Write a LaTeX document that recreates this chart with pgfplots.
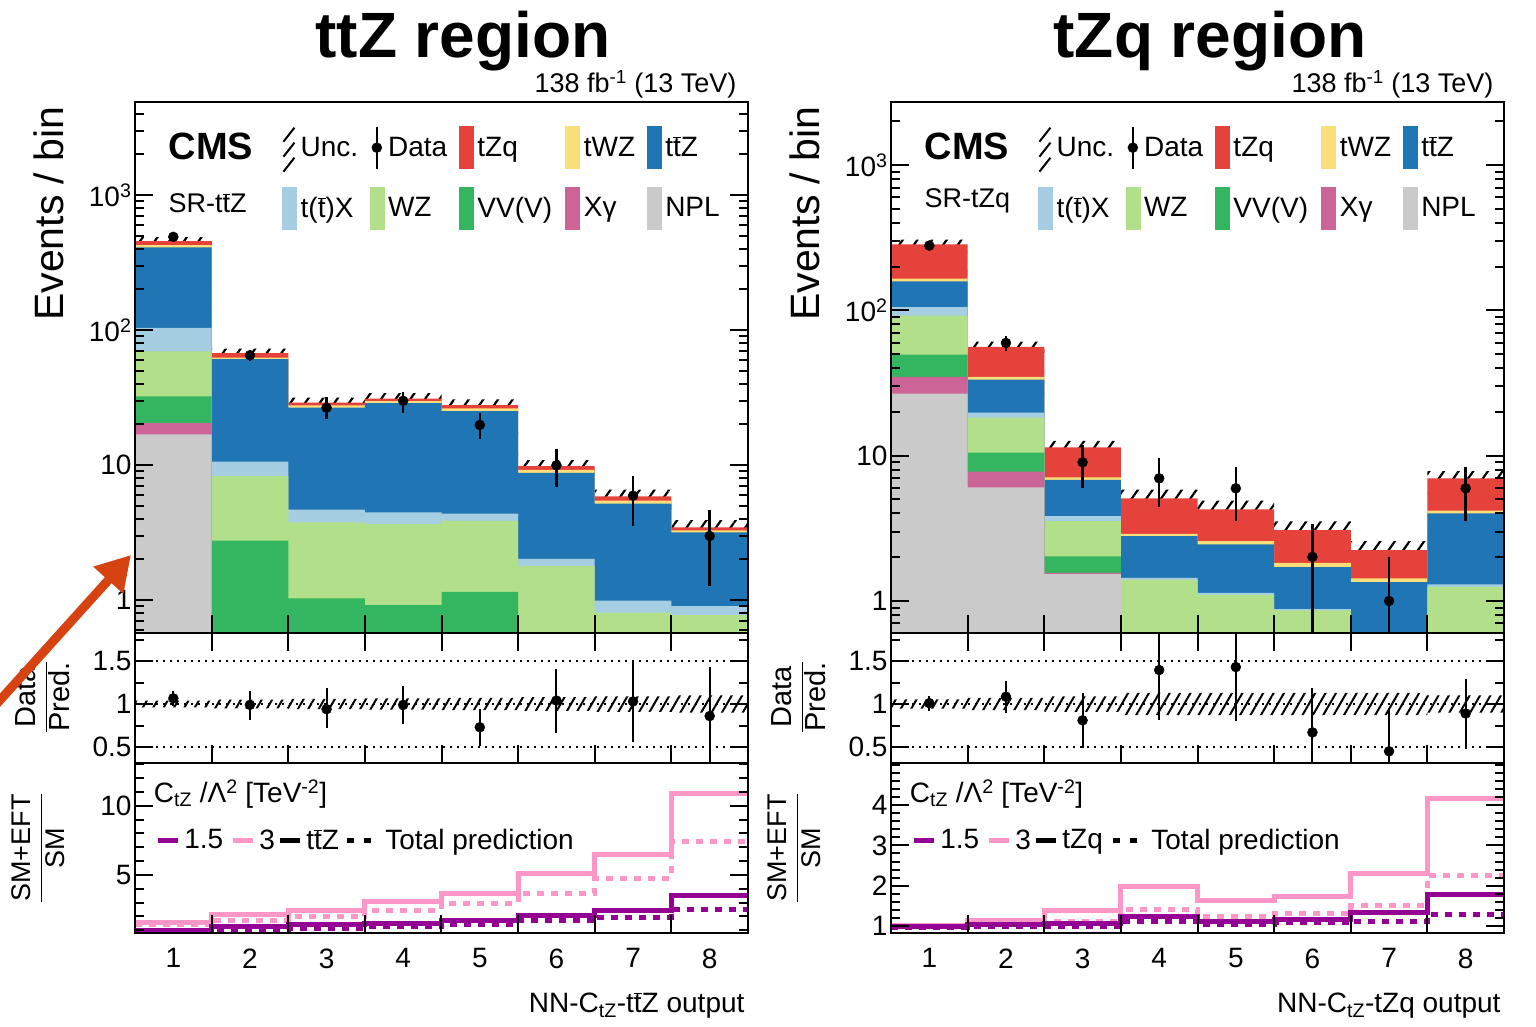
\documentclass[border=0pt]{standalone}
\usepackage{pgfplots}
\pgfplotsset{compat=1.18}
\usepackage{pgfplotstable}
\usepgfplotslibrary{fillbetween}
\usetikzlibrary{patterns.meta,arrows.meta}
\usepackage{fontspec}
\setmainfont{Liberation Sans}

\definecolor{cTZQ}{RGB}{228,66,58}
\definecolor{cTWZ}{RGB}{250,222,122}
\definecolor{cTTZ}{RGB}{32,118,180}
\definecolor{cTTX}{RGB}{166,206,227}
\definecolor{cWZ}{RGB}{178,223,138}
\definecolor{cVVV}{RGB}{52,181,96}
\definecolor{cXG}{RGB}{204,100,152}
\definecolor{cNPL}{RGB}{202,202,202}
\definecolor{cPur}{RGB}{148,0,148}
\definecolor{cPink}{RGB}{255,150,200}
\definecolor{cArrow}{RGB}{214,66,16}

\newcommand\fs[1]{\fontsize{#1}{#1}\selectfont}
\newcommand\tb{\ensuremath{\overline{\mbox{t}}}}

\pgfplotstableread{
x tzq twz ttz ttx wz vvv xg npl
0.5 0.1 0.1 0.1 0.1 0.1 0.1 0.1 0.1
0.5 456 426 410 103.5 69.5 32.2 20.4 16.9
1.5 67.5 62.5 60.9 10.6 8.26 2.76 0.4 0.3
2.5 29 27.6 26.6 4.67 3.76 1.03 0.3 0.2
3.5 31 29.7 28.7 4.46 3.65 0.918 0.3 0.2
4.5 27.8 26.3 25.1 4.36 3.86 1.15 0.3 0.2
5.5 9.8 9.2 8.75 2.02 1.79 0.45 0.3 0.2
6.5 5.86 5.45 5.17 0.99 0.805 0.4 0.3 0.2
7.5 3.45 3.28 3.17 0.90 0.773 0.4 0.3 0.2
8.5 3.45 3.28 3.17 0.90 0.773 0.4 0.3 0.2
8.5 0.1 0.1 0.1 0.1 0.1 0.1 0.1 0.1
}\Lstack

\pgfplotstableread{
x tzq twz ttz ttx wz vvv xg npl
0.5 0.1 0.1 0.1 0.1 0.1 0.1 0.1 0.1
0.5 284 165 158 105 91.9 49.5 34.8 26.7
1.5 56 34.8 33.3 19.8 18.3 10.5 7.76 6.05
2.5 11.4 7.1 6.8 3.84 3.55 2.03 1.56 1.53
3.5 5.08 2.89 2.79 1.44 1.40 0.5 0.4 0.3
4.5 4.27 2.58 2.45 1.135 1.10 0.5 0.4 0.3
5.5 3.07 1.83 1.71 0.88 0.86 0.5 0.4 0.3
6.5 2.24 1.43 1.35 0.55 0.5 0.4 0.3 0.2
7.5 6.98 4.18 4.0 1.30 1.25 0.5 0.4 0.3
8.5 6.98 4.18 4.0 1.30 1.25 0.5 0.4 0.3
8.5 0.1 0.1 0.1 0.1 0.1 0.1 0.1 0.1
}\Rstack

\pgfplotsset{
 base/.style={scale only axis, width=613pt, xmin=0.5, xmax=8.5, anchor=south west,
   axis line style={line width=2.5pt}, tick style={line width=2pt, black},
   major tick length=18pt, minor tick length=9pt,
   xtick={1.5,2.5,3.5,4.5,5.5,6.5,7.5}, xticklabels={}, minor x tick num=0,
   ytick pos=both, yticklabel pos=left,
   ticklabel style={font=\fs{28}}, /pgf/number format/assume math mode=true,
   axis on top, clip=true},
 legbox/.style={legend image code/.code={\fill[#1] (0pt,-21pt) rectangle (14pt,21pt);}},
 uncleg/.style={legend image code/.code={\draw[line width=2pt] (1pt,6pt)--(12pt,20pt) (1pt,-9pt)--(12pt,5pt) (1pt,-24pt)--(12pt,-10pt);}},
 dataleg/.style={legend image code/.code={\draw[line width=2.5pt] (7pt,-21pt)--(7pt,21pt); \fill (7pt,0pt) circle (5pt);}},
 legline/.style={legend image code/.code={\draw[#1] (0pt,0pt)--(20pt,0pt);}},
 legdots/.style={legend image code/.code={\draw[black, line width=5pt, dash pattern=on 7pt off 10pt] (0pt,0pt)--(27pt,0pt);}},
 mainleg/.style={legend columns=5, legend cell align=left,
   legend style={draw=none, fill=none, at={(axis description cs:0.235,0.96)}, anchor=north west,
   font=\fs{28}, /tikz/column sep=4pt, /tikz/row sep=14pt, nodes={inner sep=0pt}}},
 eftleg/.style={legend columns=4, legend cell align=left,
   legend style={draw=none, fill=none, at={(axis description cs:0.028,0.547)}, anchor=west,
   font=\fs{28}, /tikz/column sep=4pt, nodes={inner sep=0pt}}},
 hatchmain/.style={pattern={Lines[angle=55,distance=12pt,line width=2.2pt]}, pattern color=black, draw=none},
 hatchratio/.style={pattern={Lines[angle=60,distance=9pt,line width=2pt]}, pattern color=black, draw=none},
 dataerr/.style={only marks, mark=*, mark size=5pt, black, forget plot,
   error bars/.cd, y dir=both, y explicit, error bar style={line width=2.5pt}, error mark=none},
 ratioerr/.style={only marks, mark=*, mark size=5pt, black, forget plot,
   error bars/.cd, y dir=both, y explicit, error bar style={line width=2pt},
   error mark options={line width=2pt, mark size=4pt, black}},
 ratiodot/.style={black, line width=2pt, dash pattern=on 2pt off 5pt, forget plot},
 eftsolid/.style={const plot, line width=5pt, forget plot},
 eftdot/.style={const plot, line width=5pt, dash pattern=on 7pt off 7pt, forget plot},
 ratioax/.style={base, height=130pt, ymin=0.314, ymax=1.826, ytick={0.5,1,1.5},
   yticklabels={0.5,1,1.5}, minor ytick={0.75,1.25,1.75}, xtick pos=both},
}

\begin{document}
\begin{tikzpicture}[x=1pt,y=1pt]

%================ LEFT MAIN
\begin{axis}[base, mainleg, at={(135pt,394pt)}, height=531pt, ymode=log, log origin y=infty,
  ymin=0.570, ymax=4886, xtick pos=left,
  ytick={1,10,100,1000}, yticklabels={1,10,10\textsuperscript{2},10\textsuperscript{3}},
  minor ytick={0.6,0.7,0.8,0.9,2,3,4,5,6,7,8,9,20,30,40,50,60,70,80,90,200,300,400,500,600,700,800,900,2000,3000,4000}]
\addlegendimage{uncleg}\addlegendentry{\makebox[65pt][l]{Unc.}}
\addlegendimage{dataleg}\addlegendentry{\makebox[67pt][l]{Data}}
\addlegendimage{legbox=cTZQ}\addlegendentry{\makebox[84pt][l]{tZq}}
\addlegendimage{legbox=cTWZ}\addlegendentry{\makebox[59pt][l]{tWZ}}
\addlegendimage{legbox=cTTZ}\addlegendentry{t\tb Z}
\addlegendimage{legbox=cTTX}\addlegendentry{t(\tb)X}
\addlegendimage{legbox=cWZ}\addlegendentry{WZ}
\addlegendimage{legbox=cVVV}\addlegendentry{VV(V)}
\addlegendimage{legbox=cXG}\addlegendentry{Xγ}
\addlegendimage{legbox=cNPL}\addlegendentry{NPL}
\addplot[const plot, fill=cTZQ, draw=none, forget plot] table[x=x,y=tzq] {\Lstack};
\addplot[const plot, fill=cTWZ, draw=none, forget plot] table[x=x,y=twz] {\Lstack};
\addplot[const plot, fill=cTTZ, draw=none, forget plot] table[x=x,y=ttz] {\Lstack};
\addplot[const plot, fill=cTTX, draw=none, forget plot] table[x=x,y=ttx] {\Lstack};
\addplot[const plot, fill=cWZ, draw=none, forget plot] table[x=x,y=wz] {\Lstack};
\addplot[const plot, fill=cVVV, draw=none, forget plot] table[x=x,y=vvv] {\Lstack};
\addplot[const plot, fill=cXG, draw=none, forget plot] table[x=x,y=xg] {\Lstack};
\addplot[const plot, fill=cNPL, draw=none, forget plot] table[x=x,y=npl] {\Lstack};
\addplot[const plot, draw=none, name path=Lhi, forget plot] coordinates {(0.5,488)(1.5,72.9)(2.5,31.6)(3.5,34.1)(4.5,30.6)(5.5,10.88)(6.5,6.56)(7.5,3.90)(8.5,3.90)};
\addplot[const plot, draw=none, name path=Llo, forget plot] coordinates {(0.5,424)(1.5,62.1)(2.5,26.4)(3.5,27.9)(4.5,25.0)(5.5,8.72)(6.5,5.16)(7.5,3.00)(8.5,3.00)};
\addplot[hatchmain, forget plot] fill between[of=Lhi and Llo];
\addplot[dataerr] coordinates {(1,490) += (0,22) -= (0,22) (2,65) += (0,6) -= (0,6) (3,26.6) += (0,5.5) -= (0,4.8) (4,29.9) += (0,5.0) -= (0,5.5) (5,19.8) += (0,4.6) -= (0,4.3) (6,9.95) += (0,3.15) -= (0,3.11) (7,5.93) += (0,2.36) -= (0,2.40) (8,2.98) += (0,1.66) -= (0,1.71)};
\node[anchor=base west, font=\fs{38}\bfseries] at (axis description cs:0.049,0.891) {CMS};
\node[anchor=base west, font=\fs{27}] at (axis description cs:0.049,0.791) {SR-t\tb Z};
\end{axis}

%================ LEFT RATIO
\begin{axis}[ratioax, at={(135pt,264pt)}]
\addplot[ratiodot] coordinates {(0.5,0.5)(8.5,0.5)};
\addplot[ratiodot] coordinates {(0.5,1)(8.5,1)};
\addplot[ratiodot] coordinates {(0.5,1.5)(8.5,1.5)};
\addplot[const plot, draw=none, name path=LRhi, forget plot] coordinates {(0.5,1.04)(1.5,1.05)(2.5,1.06)(3.5,1.065)(4.5,1.07)(5.5,1.08)(6.5,1.09)(7.5,1.10)(8.5,1.10)};
\addplot[const plot, draw=none, name path=LRlo, forget plot] coordinates {(0.5,0.96)(1.5,0.95)(2.5,0.94)(3.5,0.935)(4.5,0.93)(5.5,0.92)(6.5,0.91)(7.5,0.90)(8.5,0.90)};
\addplot[hatchratio, forget plot] fill between[of=LRhi and LRlo];
\addplot[ratioerr] coordinates {(1,1.066) += (0,0.04) -= (0,0.04) (2,0.99) += (0,0.12) -= (0,0.13) (3,0.94) += (0,0.20) -= (0,0.17) (4,0.99) += (0,0.17) -= (0,0.18) (5,0.73) += (0,0.16) -= (0,0.17) (6,1.04) += (0,0.32) -= (0,0.33) (7,1.03) += (0,0.42) -= (0,0.42) (8,0.86) += (0,0.52) -= (0,0.49)};
\end{axis}

%================ LEFT EFT
\begin{axis}[base, eftleg, at={(135pt,94pt)}, height=170pt, ymin=0.8, ymax=13.1, xtick pos=left,
  ytick={5,10}, yticklabels={5,10}, minor ytick={1,2,3,4,6,7,8,9,11,12,13},
  extra x ticks={1,2,3,4,5,6,7,8}, extra x tick labels={1,2,3,4,5,6,7,8},
  extra x tick style={major tick length=0pt, xticklabel style={yshift=-12pt}}]
\addlegendimage{legline={cPur,line width=5pt}}\addlegendentry{\makebox[42pt][l]{1.5}}
\addlegendimage{legline={cPink,line width=5pt}}\addlegendentry{\makebox[14pt][l]{3}}
\addlegendimage{legline={black,line width=5pt}}\addlegendentry{\makebox[34pt][l]{t\tb Z}}
\addlegendimage{legdots}\addlegendentry{\hspace{5pt}Total prediction}
\addplot[eftsolid, cPink] coordinates {(0.5,1.54)(1.5,2.17)(2.5,2.41)(3.5,3.07)(4.5,3.67)(5.5,5.07)(6.5,6.45)(7.5,10.9)(8.5,10.9)};
\addplot[eftdot, cPink] coordinates {(0.5,1.38)(1.5,1.74)(2.5,1.98)(3.5,2.46)(4.5,2.95)(5.5,3.67)(6.5,4.76)(7.5,7.41)(8.5,7.41)};
\addplot[eftsolid, cPur] coordinates {(0.5,1.01)(1.5,1.25)(2.5,1.38)(3.5,1.5)(4.5,1.74)(5.5,2.1)(6.5,2.41)(7.5,3.48)(8.5,3.48)};
\addplot[eftdot, cPur] coordinates {(0.5,0.95)(1.5,1.07)(2.5,1.15)(3.5,1.25)(4.5,1.45)(5.5,1.69)(6.5,1.93)(7.5,2.51)(8.5,2.51)};
\node[anchor=west, font=\fs{28}] at (axis description cs:0.025,0.82) {C\textsubscript{tZ} /Λ\textsuperscript{2} [TeV\textsuperscript{-2}]};
\end{axis}

%================ RIGHT MAIN
\begin{axis}[base, mainleg, at={(891pt,394pt)}, height=531pt, ymode=log, log origin y=infty,
  ymin=0.602, ymax=2714, xtick pos=left,
  ytick={1,10,100,1000}, yticklabels={1,10,10\textsuperscript{2},10\textsuperscript{3}},
  minor ytick={0.7,0.8,0.9,2,3,4,5,6,7,8,9,20,30,40,50,60,70,80,90,200,300,400,500,600,700,800,900,2000}]
\addlegendimage{uncleg}\addlegendentry{\makebox[65pt][l]{Unc.}}
\addlegendimage{dataleg}\addlegendentry{\makebox[67pt][l]{Data}}
\addlegendimage{legbox=cTZQ}\addlegendentry{\makebox[84pt][l]{tZq}}
\addlegendimage{legbox=cTWZ}\addlegendentry{\makebox[59pt][l]{tWZ}}
\addlegendimage{legbox=cTTZ}\addlegendentry{t\tb Z}
\addlegendimage{legbox=cTTX}\addlegendentry{t(\tb)X}
\addlegendimage{legbox=cWZ}\addlegendentry{WZ}
\addlegendimage{legbox=cVVV}\addlegendentry{VV(V)}
\addlegendimage{legbox=cXG}\addlegendentry{Xγ}
\addlegendimage{legbox=cNPL}\addlegendentry{NPL}
\addplot[const plot, fill=cTZQ, draw=none, forget plot] table[x=x,y=tzq] {\Rstack};
\addplot[const plot, fill=cTWZ, draw=none, forget plot] table[x=x,y=twz] {\Rstack};
\addplot[const plot, fill=cTTZ, draw=none, forget plot] table[x=x,y=ttz] {\Rstack};
\addplot[const plot, fill=cTTX, draw=none, forget plot] table[x=x,y=ttx] {\Rstack};
\addplot[const plot, fill=cWZ, draw=none, forget plot] table[x=x,y=wz] {\Rstack};
\addplot[const plot, fill=cVVV, draw=none, forget plot] table[x=x,y=vvv] {\Rstack};
\addplot[const plot, fill=cXG, draw=none, forget plot] table[x=x,y=xg] {\Rstack};
\addplot[const plot, fill=cNPL, draw=none, forget plot] table[x=x,y=npl] {\Rstack};
\addplot[const plot, draw=none, name path=Rhi, forget plot] coordinates {(0.5,306.7)(1.5,61.0)(2.5,12.65)(3.5,5.84)(4.5,4.91)(5.5,3.53)(6.5,2.58)(7.5,7.82)(8.5,7.82)};
\addplot[const plot, draw=none, name path=Rlo, forget plot] coordinates {(0.5,261.3)(1.5,51.0)(2.5,10.15)(3.5,4.32)(4.5,3.63)(5.5,2.61)(6.5,1.90)(7.5,6.14)(8.5,6.14)};
\addplot[hatchmain, forget plot] fill between[of=Rhi and Rlo];
\addplot[dataerr] coordinates {(1,279) += (0,17) -= (0,17) (2,59.6) += (0,6.6) -= (0,7.5) (3,9.0) += (0,2.9) -= (0,3.0) (4,6.98) += (0,2.62) -= (0,2.53) (5,5.96) += (0,2.44) -= (0,2.40) (6,2.01) += (0,1.40) -= (0,1.81) (7,1.0) += (0,1.01) -= (0,0.9) (8,5.96) += (0,2.44) -= (0,2.40)};
\node[anchor=base west, font=\fs{38}\bfseries] at (axis description cs:0.049,0.891) {CMS};
\node[anchor=base west, font=\fs{27}] at (axis description cs:0.049,0.802) {SR-tZq};
\end{axis}

%================ RIGHT RATIO
\begin{axis}[ratioax, at={(891pt,264pt)}]
\addplot[ratiodot] coordinates {(0.5,0.5)(8.5,0.5)};
\addplot[ratiodot] coordinates {(0.5,1)(8.5,1)};
\addplot[ratiodot] coordinates {(0.5,1.5)(8.5,1.5)};
\addplot[const plot, draw=none, name path=RRhi, forget plot] coordinates {(0.5,1.055)(1.5,1.07)(2.5,1.09)(3.5,1.13)(4.5,1.13)(5.5,1.13)(6.5,1.13)(7.5,1.10)(8.5,1.10)};
\addplot[const plot, draw=none, name path=RRlo, forget plot] coordinates {(0.5,0.945)(1.5,0.93)(2.5,0.91)(3.5,0.87)(4.5,0.87)(5.5,0.87)(6.5,0.87)(7.5,0.90)(8.5,0.90)};
\addplot[hatchratio, forget plot] fill between[of=RRhi and RRlo];
\addplot[ratioerr] coordinates {(1,1.01) += (0,0.04) -= (0,0.04) (2,1.085) += (0,0.135) -= (0,0.145) (3,0.81) += (0,0.275) -= (0,0.27) (4,1.395) += (0,0.6) -= (0,0.535) (5,1.43) += (0,0.57) -= (0,0.585) (6,0.67) += (0,0.47) -= (0,0.6) (7,0.45) += (0,0.46) -= (0,0.45) (8,0.89) += (0,0.36) -= (0,0.37)};
\end{axis}

%================ RIGHT EFT
\begin{axis}[base, eftleg, at={(891pt,94pt)}, height=170pt, ymin=0.83, ymax=5.04, xtick pos=left,
  ytick={1,2,3,4}, yticklabels={1,2,3,4},
  minor ytick={1.2,1.4,1.6,1.8,2.2,2.4,2.6,2.8,3.2,3.4,3.6,3.8,4.2,4.4,4.6,4.8,5.0},
  extra x ticks={1,2,3,4,5,6,7,8}, extra x tick labels={1,2,3,4,5,6,7,8},
  extra x tick style={major tick length=0pt, xticklabel style={yshift=-12pt}}]
\addlegendimage{legline={cPur,line width=5pt}}\addlegendentry{\makebox[42pt][l]{1.5}}
\addlegendimage{legline={cPink,line width=5pt}}\addlegendentry{\makebox[14pt][l]{3}}
\addlegendimage{legline={black,line width=5pt}}\addlegendentry{\makebox[44pt][l]{tZq}}
\addlegendimage{legdots}\addlegendentry{\hspace{5pt}Total prediction}
\addplot[eftsolid, cPink] coordinates {(0.5,1.02)(1.5,1.14)(2.5,1.375)(3.5,1.975)(4.5,1.64)(5.5,1.725)(6.5,2.31)(7.5,4.17)(8.5,4.17)};
\addplot[eftdot, cPink] coordinates {(0.5,1.0)(1.5,1.08)(2.5,1.125)(3.5,1.42)(4.5,1.25)(5.5,1.31)(6.5,1.5)(7.5,2.25)(8.5,2.25)};
\addplot[eftsolid, cPur] coordinates {(0.5,0.98)(1.5,1.03)(2.5,1.07)(3.5,1.25)(4.5,1.125)(5.5,1.17)(6.5,1.33)(7.5,1.79)(8.5,1.79)};
\addplot[eftdot, cPur] coordinates {(0.5,0.97)(1.5,1.0)(2.5,1.0)(3.5,1.125)(4.5,1.04)(5.5,1.08)(6.5,1.125)(7.5,1.29)(8.5,1.29)};
\node[anchor=west, font=\fs{28}] at (axis description cs:0.025,0.82) {C\textsubscript{tZ} /Λ\textsuperscript{2} [TeV\textsuperscript{-2}]};
\end{axis}

%================ TEXT OUTSIDE
\node[anchor=base, font=\fs{64}\bfseries] at (463,969) {ttZ region};
\node[anchor=base, font=\fs{64}\bfseries] at (1210,969) {tZq region};
\node[anchor=base east, font=\fs{27}] at (740,934) {138 fb\textsuperscript{-1} (13 TeV)};
\node[anchor=base east, font=\fs{27}] at (1497,934) {138 fb\textsuperscript{-1} (13 TeV)};
\node[rotate=90, anchor=base east, font=\fs{41}] at (63,924) {Events / bin};
\node[rotate=90, anchor=base east, font=\fs{41}] at (819,924) {Events / bin};
\node[rotate=90, font=\fs{29}] at (43,330) {$\displaystyle\frac{\mbox{Data}}{\mbox{Pred.}}$};
\node[rotate=90, font=\fs{29}] at (799,330) {$\displaystyle\frac{\mbox{Data}}{\mbox{Pred.}}$};
\node[rotate=90, font=\fs{27}] at (38,179) {$\displaystyle\frac{\mbox{SM+EFT}}{\mbox{SM}}$};
\node[rotate=90, font=\fs{27}] at (794,179) {$\displaystyle\frac{\mbox{SM+EFT}}{\mbox{SM}}$};
\node[anchor=base east, font=\fs{28}] at (748,14) {NN-C\textsubscript{tZ}-t\tb Z output};
\node[anchor=base east, font=\fs{28}] at (1504,14) {NN-C\textsubscript{tZ}-tZq output};
\begin{scope}
\clip (0,0) rectangle (1536,1027);
\draw[cArrow, line width=9pt, -{Triangle[length=34pt,width=38pt]}] (-8,318) -- (131,472);
\end{scope}
\pgfresetboundingbox
\path[use as bounding box] (0,0) rectangle (1536,1027);
\end{tikzpicture}
\end{document}
